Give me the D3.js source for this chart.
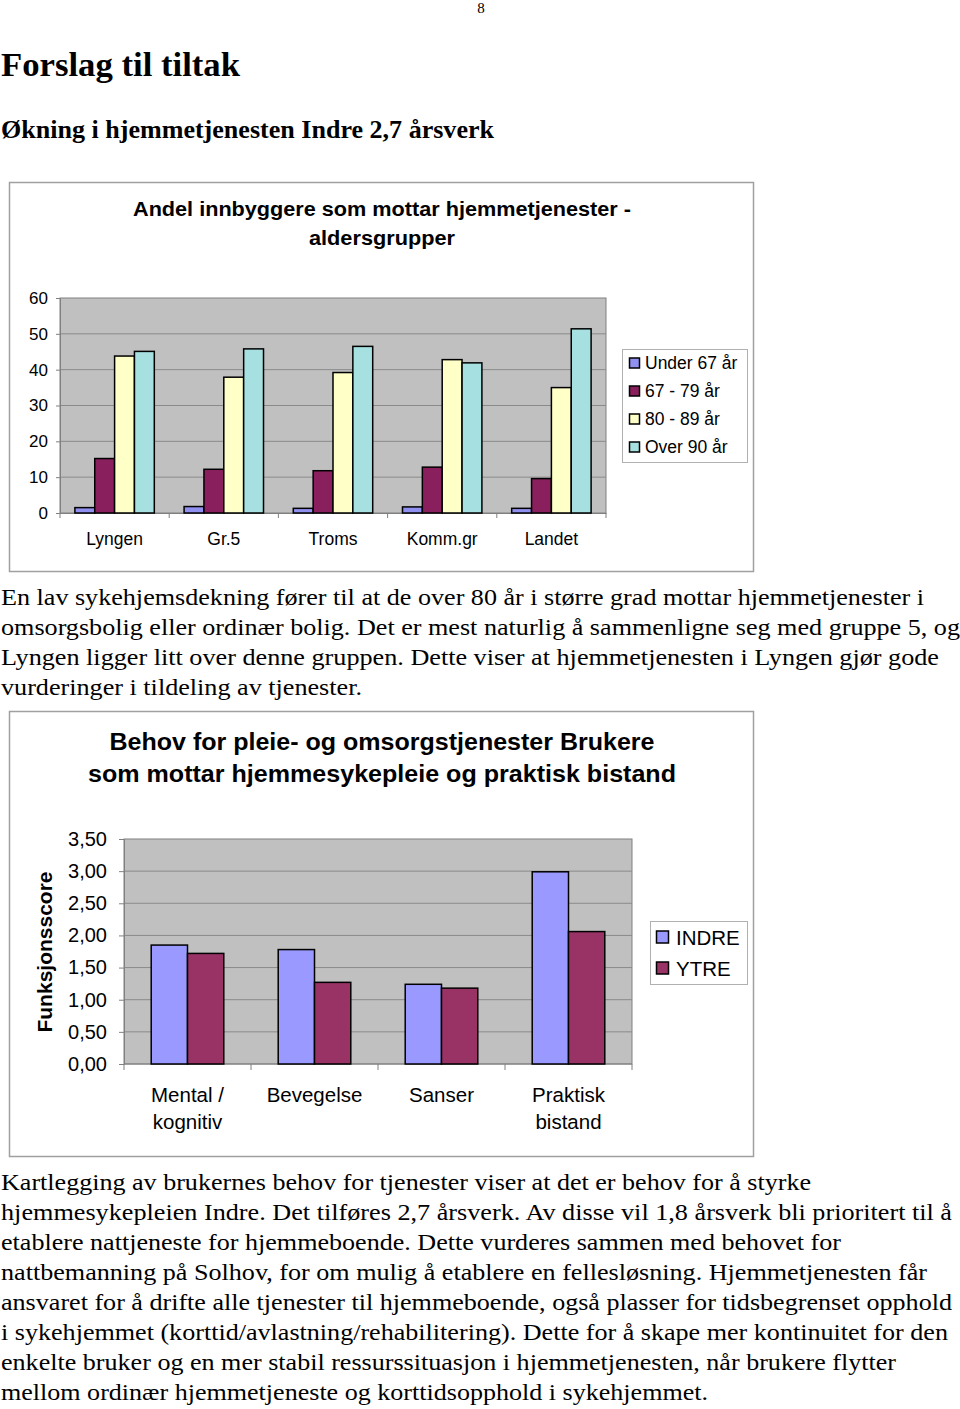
<!DOCTYPE html>
<html>
<head>
<meta charset="utf-8">
<script src="https://cdn.jsdelivr.net/npm/d3@7"></script>
<style>
  html, body { margin: 0; padding: 0; background: #fff; }
  svg { display: block; }
</style>
</head>
<body>
<script>
// ---------- Data ----------
const cats1 = ["Lyngen", "Gr.5", "Troms", "Komm.gr", "Landet"];
const series1 = ["Under 67 år", "67 - 79 år", "80 - 89 år", "Over 90 år"];
const under67 = [1.5, 1.8, 1.3, 1.7, 1.3];
const age67to79 = [15.2, 12.2, 11.8, 12.8, 9.6];
const age80to89 = [43.8, 37.9, 39.2, 42.8, 35.0];
const over90 = [45.1, 45.8, 46.5, 41.9, 51.4];
const ticks1 = [0, 10, 20, 30, 40, 50, 60];

const cats2 = ["Mental / kognitiv", "Bevegelse", "Sanser", "Praktisk bistand"];
const catLines2 = [["Mental /", "kognitiv"], ["Bevegelse"], ["Sanser"], ["Praktisk", "bistand"]];
const series2 = ["INDRE", "YTRE"];
const indre = [1.85, 1.78, 1.24, 2.99];
const ytre = [1.72, 1.27, 1.18, 2.06];
const ticks2 = [0, 0.5, 1, 1.5, 2, 2.5, 3, 3.5];

const para1 = [
  "En lav sykehjemsdekning fører til at de over 80 år i større grad mottar hjemmetjenester i",
  "omsorgsbolig eller ordinær bolig. Det er mest naturlig å sammenligne seg med gruppe 5, og",
  "Lyngen ligger litt over denne gruppen. Dette viser at hjemmetjenesten i Lyngen gjør gode",
  "vurderinger i tildeling av tjenester."
];
const para2 = [
  "Kartlegging av brukernes behov for tjenester viser at det er behov for å styrke",
  "hjemmesykepleien Indre. Det tilføres 2,7 årsverk. Av disse vil 1,8 årsverk bli prioritert til å",
  "etablere nattjeneste for hjemmeboende. Dette vurderes sammen med behovet for",
  "nattbemanning på Solhov, for om mulig å etablere en fellesløsning. Hjemmetjenesten får",
  "ansvaret for å drifte alle tjenester til hjemmeboende, også plasser for tidsbegrenset opphold",
  "i sykehjemmet (korttid/avlastning/rehabilitering). Dette for å skape mer kontinuitet for den",
  "enkelte bruker og en mer stabil ressurssituasjon i hjemmetjenesten, når brukere flytter",
  "mellom ordinær hjemmetjeneste og korttidsopphold i sykehjemmet."
];

// ---------- Layout ----------
const W = 960, H = 1409;
const svg = d3.select("body").append("svg").attr("width", W).attr("height", H);
svg.append("rect").attr("width", W).attr("height", H).attr("fill", "#fff");

const serif = "'Liberation Serif', 'Times New Roman', serif";
const sans = "'Liberation Sans', Arial, sans-serif";

svg.append("text").attr("x", 481).attr("y", 13).attr("text-anchor", "middle")
  .attr("font-family", serif).attr("font-size", 15).text("8");
svg.append("text").attr("x", 1).attr("y", 76).attr("font-family", serif)
  .attr("font-weight", "bold").attr("font-size", 33)
  .attr("textLength", 239).attr("lengthAdjust", "spacingAndGlyphs").text("Forslag til tiltak");
svg.append("text").attr("x", 1).attr("y", 138).attr("font-family", serif)
  .attr("font-weight", "bold").attr("font-size", 25)
  .attr("textLength", 493).attr("lengthAdjust", "spacingAndGlyphs").text("Økning i hjemmetjenesten Indre 2,7 årsverk");

const p1Len = [923, 959, 938, 361];
const p2Len = [810, 951, 840, 926, 951, 947, 895, 707];
function para(lines, lens, y0) {
  svg.append("g").selectAll("text").data(lines).join("text")
    .attr("x", 1).attr("y", (d, i) => y0 + i * 30)
    .attr("font-family", serif).attr("font-size", 23.5)
    .attr("textLength", (d, i) => lens[i]).attr("lengthAdjust", "spacingAndGlyphs")
    .text(d => d);
}
para(para1, p1Len, 605);
para(para2, p2Len, 1190);

function title(g, x, y, size, len, txt) {
  g.append("text").attr("x", x - len / 2).attr("y", y)
    .attr("font-family", sans).attr("font-weight", "bold").attr("font-size", size)
    .attr("textLength", len).attr("lengthAdjust", "spacingAndGlyphs").text(txt);
}

// ---------- Chart 1 ----------
const c1 = svg.append("g");
c1.append("rect").attr("x", 9.5).attr("y", 182.5).attr("width", 744).attr("height", 389)
  .attr("fill", "#fff").attr("stroke", "#a0a0a0").attr("stroke-width", 1.5);
title(c1, 382, 216, 20, 498, "Andel innbyggere som mottar hjemmetjenester -");
title(c1, 382, 245, 20, 146, "aldersgrupper");

const p1 = { l: 60, r: 606, t: 298, b: 513 };
const x1 = d3.scaleBand().domain(cats1).range([p1.l, p1.r]).paddingInner(1.5 / 5.5).paddingOuter(0.75 / 5.5);
const xs1 = d3.scaleBand().domain(series1).range([0, x1.bandwidth()]);
const y1 = d3.scaleLinear().domain([0, 60]).range([p1.b, p1.t]);
const colors1 = d3.scaleOrdinal().domain(series1).range(["#9090f0", "#8a1f5e", "#ffffc8", "#a6e0e0"]);
const vals1 = [under67, age67to79, age80to89, over90];

c1.append("rect").attr("x", p1.l).attr("y", p1.t).attr("width", p1.r - p1.l).attr("height", p1.b - p1.t)
  .attr("fill", "#c0c0c0").attr("stroke", "#808080").attr("stroke-width", 1);
c1.append("g").selectAll("line").data(ticks1.slice(1, -1)).join("line")
  .attr("x1", p1.l).attr("x2", p1.r).attr("y1", d => y1(d)).attr("y2", d => y1(d))
  .attr("stroke", "#8a8a8a").attr("stroke-width", 1);

const yAx1 = d3.axisLeft(y1).tickValues(ticks1).tickSize(4).tickPadding(8).tickFormat(d3.format("d"));
const gy1 = c1.append("g").attr("transform", `translate(${p1.l},0)`).call(yAx1);
gy1.select(".domain").attr("stroke", "#808080");
gy1.selectAll(".tick line").attr("stroke", "#808080");
gy1.selectAll(".tick text").attr("font-family", sans).attr("font-size", 17).attr("fill", "#000");

const xAx1 = d3.axisBottom(x1).tickSize(0).tickPadding(20);
const gx1 = c1.append("g").attr("transform", `translate(0,${p1.b})`).call(xAx1);
gx1.select(".domain").attr("stroke", "#808080");
gx1.selectAll(".tick text").attr("font-family", sans).attr("font-size", 17.5).attr("fill", "#000");
c1.append("g").selectAll("line").data(d3.range(cats1.length + 1)).join("line")
  .attr("x1", i => p1.l + i * x1.step()).attr("x2", i => p1.l + i * x1.step())
  .attr("y1", p1.b).attr("y2", p1.b + 5).attr("stroke", "#808080");

series1.forEach((s, si) => {
  c1.append("g").selectAll("rect").data(cats1).join("rect")
    .attr("x", c => x1(c) + xs1(s))
    .attr("y", (c, ci) => y1(vals1[si][ci]))
    .attr("width", xs1.bandwidth())
    .attr("height", (c, ci) => y1(0) - y1(vals1[si][ci]))
    .attr("fill", colors1(s)).attr("stroke", "#000").attr("stroke-width", 1.5);
});

const lg1 = c1.append("g");
lg1.append("rect").attr("x", 622.5).attr("y", 349.5).attr("width", 125).attr("height", 113)
  .attr("fill", "#fff").attr("stroke", "#b0b0b0");
series1.forEach((s, i) => {
  const cy = 363 + i * 28;
  lg1.append("rect").attr("x", 629.5).attr("y", cy - 5).attr("width", 10).attr("height", 10)
    .attr("fill", colors1(s)).attr("stroke", "#000").attr("stroke-width", 1.5);
  lg1.append("text").attr("x", 645).attr("y", cy + 6).attr("font-family", sans)
    .attr("font-size", 17.5).text(s);
});

// ---------- Chart 2 ----------
const c2 = svg.append("g");
c2.append("rect").attr("x", 9.5).attr("y", 711.5).attr("width", 744).attr("height", 445)
  .attr("fill", "#fff").attr("stroke", "#a0a0a0").attr("stroke-width", 1.5);
title(c2, 382, 750, 23, 545, "Behov for pleie- og omsorgstjenester Brukere");
title(c2, 382, 782, 23, 588, "som mottar hjemmesykepleie og praktisk bistand");
c2.append("text").attr("transform", "translate(52,952) rotate(-90)").attr("text-anchor", "middle")
  .attr("font-family", sans).attr("font-weight", "bold").attr("font-size", 21).text("Funksjonsscore");

const p2 = { l: 124, r: 632, t: 839, b: 1064 };
const x2 = d3.scaleBand().domain(cats2).range([p2.l, p2.r]).paddingInner(1.5 / 3.5).paddingOuter(0.75 / 3.5);
const xs2 = d3.scaleBand().domain(series2).range([0, x2.bandwidth()]);
const y2 = d3.scaleLinear().domain([0, 3.5]).range([p2.b, p2.t]);
const colors2 = d3.scaleOrdinal().domain(series2).range(["#9999ff", "#993366"]);
const vals2 = [indre, ytre];

c2.append("rect").attr("x", p2.l).attr("y", p2.t).attr("width", p2.r - p2.l).attr("height", p2.b - p2.t)
  .attr("fill", "#c0c0c0").attr("stroke", "#808080").attr("stroke-width", 1);
c2.append("g").selectAll("line").data(ticks2.slice(1, -1)).join("line")
  .attr("x1", p2.l).attr("x2", p2.r).attr("y1", d => y2(d)).attr("y2", d => y2(d))
  .attr("stroke", "#8a8a8a").attr("stroke-width", 1);

const fmt2 = d => d3.format(".2f")(d).replace(".", ",");
const yAx2 = d3.axisLeft(y2).tickValues(ticks2).tickSize(5).tickPadding(12).tickFormat(fmt2);
const gy2 = c2.append("g").attr("transform", `translate(${p2.l},0)`).call(yAx2);
gy2.select(".domain").attr("stroke", "#808080");
gy2.selectAll(".tick line").attr("stroke", "#808080");
gy2.selectAll(".tick text").attr("font-family", sans).attr("font-size", 20).attr("fill", "#000");

const gx2 = c2.append("g").attr("transform", `translate(0,${p2.b})`);
gx2.append("line").attr("x1", p2.l).attr("x2", p2.r).attr("y1", 0).attr("y2", 0).attr("stroke", "#808080");
gx2.selectAll("line.tk").data(d3.range(cats2.length + 1)).join("line").attr("class", "tk")
  .attr("x1", i => p2.l + i * x2.step()).attr("x2", i => p2.l + i * x2.step())
  .attr("y1", 0).attr("y2", 6).attr("stroke", "#808080");
cats2.forEach((c, ci) => {
  const t = gx2.append("text").attr("text-anchor", "middle").attr("font-family", sans)
    .attr("font-size", 20.5);
  catLines2[ci].forEach((ln, li) => {
    t.append("tspan").attr("x", x2(c) + x2.bandwidth() / 2).attr("y", 38 + li * 27).text(ln);
  });
});

series2.forEach((s, si) => {
  c2.append("g").selectAll("rect").data(cats2).join("rect")
    .attr("x", c => x2(c) + xs2(s))
    .attr("y", (c, ci) => y2(vals2[si][ci]))
    .attr("width", xs2.bandwidth())
    .attr("height", (c, ci) => y2(0) - y2(vals2[si][ci]))
    .attr("fill", colors2(s)).attr("stroke", "#000").attr("stroke-width", 1.5);
});

const lg2 = c2.append("g");
lg2.append("rect").attr("x", 650.5).attr("y", 921.5).attr("width", 97).attr("height", 63)
  .attr("fill", "#fff").attr("stroke", "#b0b0b0");
series2.forEach((s, i) => {
  const cy = 937 + i * 31;
  lg2.append("rect").attr("x", 656.5).attr("y", cy - 6).attr("width", 12).attr("height", 12)
    .attr("fill", colors2(s)).attr("stroke", "#000").attr("stroke-width", 1.5);
  lg2.append("text").attr("x", 676).attr("y", cy + 7.5).attr("font-family", sans)
    .attr("font-size", 20.5).text(s);
});
</script>
</body>
</html>
